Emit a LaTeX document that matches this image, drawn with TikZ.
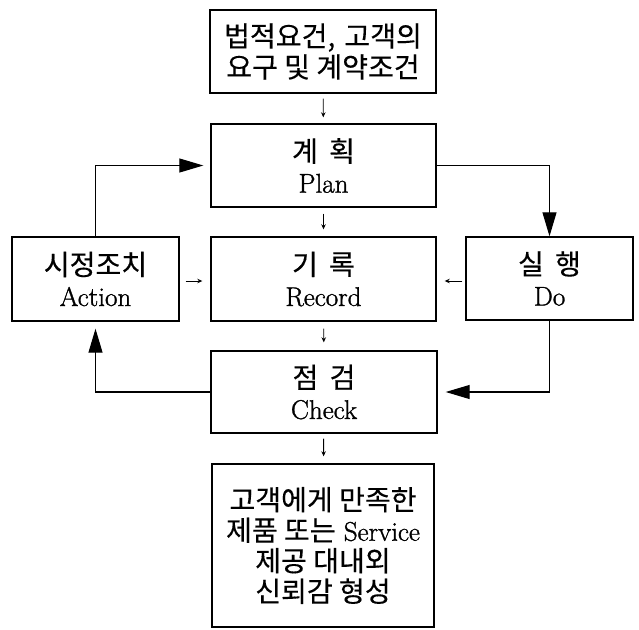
\documentclass[tikz,border=0pt]{standalone}
\usepackage{fontspec}
\setmainfont{Latin Modern Roman}[FakeBold=1.2]
\newfontfamily\kr{Noto Sans CJK KR}[Scale=1.04, FakeBold=0.3]
\usetikzlibrary{arrows.meta}
\newcommand\kgap{\hspace{0.4em}}
\tikzset{
  box/.style={draw, line width=1.4pt, inner sep=0pt, align=center,
    font=\fontsize{27}{31}\selectfont},
  link/.style={line width=1.1pt, -{Triangle[length=24pt,width=14pt]}},
  small/.style={line width=0.9pt, -{Stealth[length=5pt,width=4.5pt]}},
}
\begin{document}
\begin{tikzpicture}[x=1pt,y=1pt]
\useasboundingbox (0,0) rectangle (639,-629);
\node[box, minimum width=226pt, minimum height=83pt] (req) at (323,-51.5)
  {{\kr 법적요건,\hspace{0.1em} 고객의}\\{\kr 요구 및 계약조건}};
\node[box, minimum width=225pt, minimum height=83pt] (plan) at (323.5,-165.5)
  {{\kr 계\kgap 획}\\Plan};
\node[box, minimum width=225pt, minimum height=84pt] (rec) at (323.5,-279)
  {{\kr 기\kgap 록}\\Record};
\node[box, minimum width=226pt, minimum height=82pt] (chk) at (324,-392)
  {{\kr 점\kgap 검}\\Check};
\node[box, minimum width=222pt, minimum height=163pt,
  font=\fontsize{27}{30.5}\selectfont] (out) at (323,-545.5)
  {{\kr 고객에게 만족한}\\{\kr 제품 또는} Service\\{\kr 제공 대내외}\\{\kr 신뢰감 형성}};
\node[box, minimum width=167pt, minimum height=84pt] (act) at (95.5,-279)
  {{\kr 시정조치}\\Action};
\node[box, minimum width=167pt, minimum height=83pt] (do) at (549.5,-278.5)
  {{\kr 실\kgap 행}\\Do};
% small arrows
\draw[small, shorten <=5pt, shorten >=6pt] (req) -- (plan);
\draw[small, shorten <=6pt, shorten >=7pt] (plan) -- (rec);
\draw[small, shorten <=7pt, shorten >=8pt] (rec) -- (chk);
\draw[small, shorten <=5pt, shorten >=7pt] (chk) -- (out);
\draw[small, shorten <=6pt, shorten >=8pt] (act.east |- 0,-281) -- (rec.west |- 0,-281);
\draw[small, shorten <=3pt, shorten >=8pt] (do.west |- 0,-281) -- (rec.east |- 0,-281);
% loop
\draw[link, shorten >=7pt] (act.north) |- (plan.west);
\draw[link] (plan.east) -| (do.north);
\draw[link, shorten >=8pt] (do.south) |- (chk.east);
\draw[link, shorten >=7pt] (chk.west) -| (act.south);
\end{tikzpicture}
\end{document}
